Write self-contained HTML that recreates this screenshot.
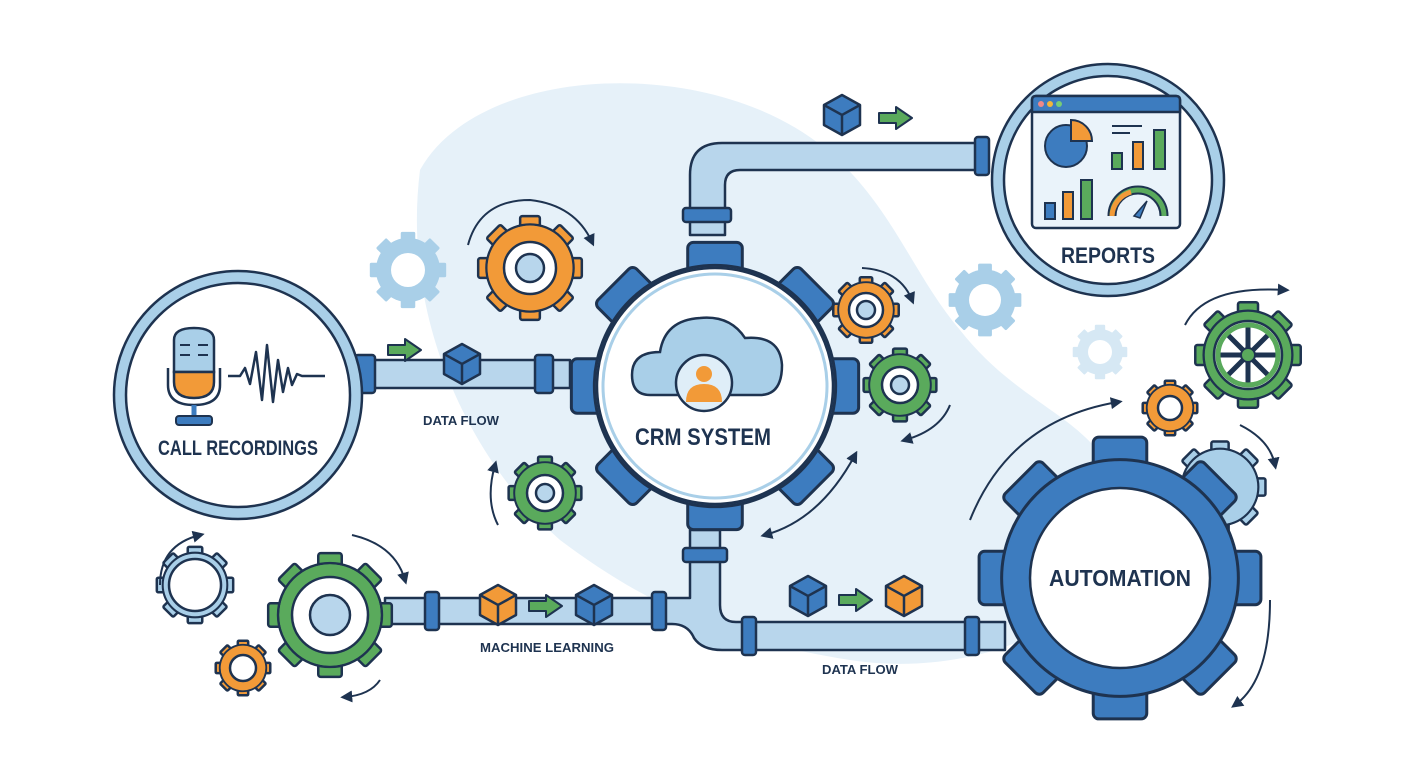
<!DOCTYPE html>
<html><head><meta charset="utf-8"><style>
html,body{margin:0;padding:0;background:#fff;}
svg{display:block;}
text{font-family:"Liberation Sans",sans-serif;font-weight:bold;fill:#1e3350;}
</style></head><body>
<svg width="1408" height="768" viewBox="0 0 1408 768" xmlns="http://www.w3.org/2000/svg">
<defs>
<symbol id="g" viewBox="-1.1 -1.1 2.2 2.2" overflow="visible">
 <rect x="-0.19" y="-1" width="0.38" height="0.3" rx="0.04" vector-effect="non-scaling-stroke"/>
 <rect x="-0.19" y="-1" width="0.38" height="0.3" rx="0.04" transform="rotate(45)" vector-effect="non-scaling-stroke"/>
 <rect x="-0.19" y="-1" width="0.38" height="0.3" rx="0.04" transform="rotate(90)" vector-effect="non-scaling-stroke"/>
 <rect x="-0.19" y="-1" width="0.38" height="0.3" rx="0.04" transform="rotate(135)" vector-effect="non-scaling-stroke"/>
 <rect x="-0.19" y="-1" width="0.38" height="0.3" rx="0.04" transform="rotate(180)" vector-effect="non-scaling-stroke"/>
 <rect x="-0.19" y="-1" width="0.38" height="0.3" rx="0.04" transform="rotate(225)" vector-effect="non-scaling-stroke"/>
 <rect x="-0.19" y="-1" width="0.38" height="0.3" rx="0.04" transform="rotate(270)" vector-effect="non-scaling-stroke"/>
 <rect x="-0.19" y="-1" width="0.38" height="0.3" rx="0.04" transform="rotate(315)" vector-effect="non-scaling-stroke"/>
 <circle r="0.84" vector-effect="non-scaling-stroke"/>
 <circle r="0.82" stroke="none"/>
</symbol>
<symbol id="cube" viewBox="-20 -22 40 44" overflow="visible">
 <path d="M0 -20 L18 -10 L18 10 L0 20 L-18 10 L-18 -10 Z" stroke="#1e3350" stroke-width="2.5" stroke-linejoin="round"/>
 <path d="M-18 -10 L0 0 L18 -10 M0 0 L0 20" fill="none" stroke="#1e3350" stroke-width="2.5"/>
</symbol>
<symbol id="arr" viewBox="0 0 36 24" overflow="visible">
 <path d="M1 7 H18 V1 L34 12 L18 23 V17 H1 Z" fill="#5aaa5c" stroke="#1e3350" stroke-width="2" stroke-linejoin="round"/>
</symbol>
<marker id="ah" viewBox="0 0 10 10" refX="6" refY="5" markerWidth="6" markerHeight="6" orient="auto-start-reverse">
 <path d="M0 0 L10 5 L0 10 Z" fill="#1e3350"/>
</marker>
</defs>

<path d="M420 170 C470 80 640 60 760 110 C880 160 900 260 960 330 C1030 420 1120 420 1120 520 C1120 620 980 680 850 660 C720 640 640 600 560 540 C480 470 400 330 420 170 Z" fill="#e6f1f9"/>

<!-- pipes -->
<g stroke="#1e3350" stroke-width="2.5" fill="#b8d6ec" stroke-linejoin="round">
 <rect x="355" y="360" width="215" height="28"/>
 <rect x="355" y="355" width="20" height="38" rx="3" fill="#3d7cbf"/>
 <rect x="535" y="355" width="18" height="38" rx="3" fill="#3d7cbf"/>
 <path d="M690 235 V175 Q690 143 722 143 H985 V170 H740 Q725 170 725 185 V235 Z"/>
 <rect x="683" y="208" width="48" height="14" rx="3" fill="#3d7cbf"/>
 <rect x="975" y="137" width="14" height="38" rx="3" fill="#3d7cbf"/>
 <path d="M690 530 V598 H385 V624 H672 Q688 624 694 638 Q702 650 722 650 H1005 V622 H736 Q720 622 720 605 V530 Z"/>
 <rect x="683" y="548" width="44" height="14" rx="3" fill="#3d7cbf"/>
 <rect x="742" y="617" width="14" height="38" rx="3" fill="#3d7cbf"/>
 <rect x="965" y="617" width="14" height="38" rx="3" fill="#3d7cbf"/>
 <rect x="425" y="592" width="14" height="38" rx="3" fill="#3d7cbf"/>
 <rect x="652" y="592" width="14" height="38" rx="3" fill="#3d7cbf"/>
</g>

<g stroke="none">
 <use href="#g" x="366" y="228" width="84" height="84" fill="#a9cfe8"/>
 <use href="#g" x="945" y="260" width="80" height="80" fill="#a9cfe8"/>
 <use href="#g" x="1070" y="322" width="60" height="60" fill="#d6e8f4"/>
</g>
<circle cx="408" cy="270" r="17" fill="#fff"/>
<circle cx="985" cy="300" r="16" fill="#fff"/>
<circle cx="1100" cy="352" r="12" fill="#fff"/>

<g stroke="#1e3350" stroke-width="2.5">
 <use href="#g" x="473" y="211" width="114" height="114" fill="#f29a38"/>
 <use href="#g" x="505" y="453" width="80" height="80" fill="#5aaa5c"/>
 <use href="#g" x="830" y="274" width="72" height="72" fill="#f29a38"/>
 <use href="#g" x="860" y="345" width="80" height="80" fill="#5aaa5c"/>
 <use href="#g" x="262" y="547" width="136" height="136" fill="#5aaa5c"/>
 <use href="#g" x="153" y="543" width="84" height="84" fill="#a9cfe8"/>
 <use href="#g" x="213" y="638" width="60" height="60" fill="#f29a38"/>
 <use href="#g" x="1190" y="297" width="116" height="116" fill="#5aaa5c"/>
 <use href="#g" x="1170" y="437" width="100" height="100" fill="#a9cfe8"/>
 <use href="#g" x="1140" y="378" width="60" height="60" fill="#f29a38"/>
</g>
<g stroke="#1e3350" stroke-width="2.5" fill="#fff">
 <circle cx="530" cy="268" r="26"/><circle cx="530" cy="268" r="14" fill="#b8d6ec"/>
 <circle cx="545" cy="493" r="18"/><circle cx="545" cy="493" r="9" fill="#b8d6ec"/>
 <circle cx="866" cy="310" r="17"/><circle cx="866" cy="310" r="9" fill="#b8d6ec"/>
 <circle cx="900" cy="385" r="18"/><circle cx="900" cy="385" r="9" fill="#b8d6ec"/>
 <circle cx="330" cy="615" r="38"/><circle cx="330" cy="615" r="20" fill="#b8d6ec"/>
 <circle cx="195" cy="585" r="26"/>
 <circle cx="243" cy="668" r="13"/>
 <circle cx="1170" cy="408" r="12"/>
</g>
<circle cx="1248" cy="355" r="34" fill="#fff" stroke="#1e3350" stroke-width="2.5"/>
<g stroke="#1e3350" stroke-width="5"><path d="M1248 325 V385 M1218 355 H1278 M1227 334 L1269 376 M1269 334 L1227 376"/></g>
<circle cx="1248" cy="355" r="30" fill="none" stroke="#5aaa5c" stroke-width="5"/>
<circle cx="1248" cy="355" r="7" fill="#5aaa5c" stroke="#1e3350" stroke-width="2"/>

<!-- CRM big gear -->
<use href="#g" x="557" y="228" width="316" height="316" fill="#3d7cbf" stroke="#1e3350" stroke-width="3"/>
<circle cx="715" cy="386" r="118" fill="#fff" stroke="#1e3350" stroke-width="2.5"/>
<circle cx="715" cy="386" r="112" fill="none" stroke="#a9cfe8" stroke-width="3"/>
<path d="M650 395 Q632 395 632 375 Q632 352 660 352 Q665 320 700 318 Q730 315 745 338 Q780 335 782 365 Q782 395 760 395 Z" fill="#a9cfe8" stroke="#1e3350" stroke-width="2.5"/>
<circle cx="704" cy="383" r="28" fill="#dfeef8" stroke="#1e3350" stroke-width="2.5"/>
<circle cx="704" cy="374" r="8" fill="#f29a38"/>
<path d="M686 402 Q686 384 704 384 Q722 384 722 402 Z" fill="#f29a38"/>
<text x="703" y="445" font-size="24" text-anchor="middle" textLength="136" lengthAdjust="spacingAndGlyphs">CRM SYSTEM</text>

<!-- Automation gear -->
<use href="#g" x="965" y="423" width="310" height="310" fill="#3d7cbf" stroke="#1e3350" stroke-width="3"/>
<circle cx="1120" cy="578" r="90" fill="#fff" stroke="#1e3350" stroke-width="2.5"/>
<text x="1120" y="586" font-size="23" text-anchor="middle" textLength="142" lengthAdjust="spacingAndGlyphs">AUTOMATION</text>

<!-- Call recordings -->
<circle cx="238" cy="395" r="118" fill="#fff" stroke="#a9cfe8" stroke-width="12"/>
<circle cx="238" cy="395" r="124" fill="none" stroke="#1e3350" stroke-width="2.5"/>
<circle cx="238" cy="395" r="112" fill="none" stroke="#1e3350" stroke-width="2.5"/>
<path d="M174 340 Q174 328 194 328 Q214 328 214 340 V372 H174 Z" fill="#a9cfe8" stroke="#1e3350" stroke-width="2.5"/>
<path d="M174 372 H214 V382 Q214 398 194 398 Q174 398 174 382 Z" fill="#f29a38" stroke="#1e3350" stroke-width="2.5"/>
<path d="M180 345 H190 M198 345 H208 M180 355 H190 M198 355 H208" stroke="#1e3350" stroke-width="2"/>
<path d="M168 368 V385 Q168 405 194 405 Q220 405 220 385 V368" fill="none" stroke="#1e3350" stroke-width="2.5"/>
<path d="M194 405 V418" stroke="#3d7cbf" stroke-width="5"/>
<rect x="176" y="416" width="36" height="9" rx="3" fill="#3d7cbf" stroke="#1e3350" stroke-width="2"/>
<path d="M228 376 H240 L245 368 L250 384 L256 352 L262 400 L267 345 L273 402 L278 360 L283 392 L288 368 L292 385 L297 374 L302 376 H325" fill="none" stroke="#1e3350" stroke-width="2.5" stroke-linejoin="round"/>
<text x="238" y="455" font-size="21" text-anchor="middle" textLength="160" lengthAdjust="spacingAndGlyphs">CALL RECORDINGS</text>

<!-- Reports -->
<circle cx="1108" cy="180" r="110" fill="#fff" stroke="#a9cfe8" stroke-width="12"/>
<circle cx="1108" cy="180" r="116" fill="none" stroke="#1e3350" stroke-width="2.5"/>
<circle cx="1108" cy="180" r="104" fill="none" stroke="#1e3350" stroke-width="2.5"/>
<rect x="1032" y="96" width="148" height="132" rx="4" fill="#eaf3fa" stroke="#1e3350" stroke-width="2.5"/>
<path d="M1032 100 Q1032 96 1036 96 H1176 Q1180 96 1180 100 V112 H1032 Z" fill="#3d7cbf" stroke="#1e3350" stroke-width="2.5"/>
<circle cx="1041" cy="104" r="3" fill="#e88"/><circle cx="1050" cy="104" r="3" fill="#f2b53a"/><circle cx="1059" cy="104" r="3" fill="#7c7"/>
<circle cx="1066" cy="146" r="21" fill="#3d7cbf" stroke="#1e3350" stroke-width="2"/>
<path d="M1071 141 V120 A21 21 0 0 1 1092 141 Z" fill="#f29a38" stroke="#1e3350" stroke-width="2"/>
<path d="M1112 126 H1142 M1112 133 H1130" stroke="#1e3350" stroke-width="2"/>
<rect x="1112" y="153" width="10" height="16" fill="#5aaa5c" stroke="#1e3350" stroke-width="2"/>
<rect x="1133" y="142" width="10" height="27" fill="#f29a38" stroke="#1e3350" stroke-width="2"/>
<rect x="1154" y="130" width="11" height="39" fill="#5aaa5c" stroke="#1e3350" stroke-width="2"/>
<rect x="1045" y="203" width="10" height="16" fill="#3d7cbf" stroke="#1e3350" stroke-width="2"/>
<rect x="1063" y="192" width="10" height="27" fill="#f29a38" stroke="#1e3350" stroke-width="2"/>
<rect x="1081" y="180" width="11" height="39" fill="#5aaa5c" stroke="#1e3350" stroke-width="2"/>
<path d="M1112 216 A26 26 0 0 1 1164 216" fill="none" stroke="#1e3350" stroke-width="9"/>
<path d="M1112 216 A26 26 0 0 1 1164 216" fill="none" stroke="#5aaa5c" stroke-width="5"/>
<path d="M1112 216 A26 26 0 0 1 1131 192" fill="none" stroke="#f29a38" stroke-width="5"/>
<path d="M1134 216 L1147 201 L1140 218 Z" fill="#3d7cbf" stroke="#1e3350" stroke-width="1.5"/>
<text x="1108" y="263" font-size="22" text-anchor="middle" textLength="94" lengthAdjust="spacingAndGlyphs">REPORTS</text>

<use href="#cube" x="822" y="93" width="40" height="44" fill="#3d7cbf"/>
<use href="#arr" x="878" y="106" width="36" height="24"/>
<use href="#cube" x="442" y="342" width="40" height="44" fill="#3d7cbf"/>
<use href="#arr" x="387" y="338" width="36" height="24"/>
<use href="#cube" x="478" y="583" width="40" height="44" fill="#f29a38"/>
<use href="#arr" x="528" y="594" width="36" height="24"/>
<use href="#cube" x="574" y="583" width="40" height="44" fill="#3d7cbf"/>
<use href="#cube" x="788" y="574" width="40" height="44" fill="#3d7cbf"/>
<use href="#arr" x="838" y="588" width="36" height="24"/>
<use href="#cube" x="884" y="574" width="40" height="44" fill="#f29a38"/>

<text x="461" y="425" font-size="13" text-anchor="middle" textLength="76" lengthAdjust="spacingAndGlyphs">DATA FLOW</text>
<text x="547" y="652" font-size="13" text-anchor="middle" textLength="134" lengthAdjust="spacingAndGlyphs">MACHINE LEARNING</text>
<text x="860" y="674" font-size="13" text-anchor="middle" textLength="76" lengthAdjust="spacingAndGlyphs">DATA FLOW</text>

<g fill="none" stroke="#1e3350" stroke-width="2" marker-end="url(#ah)">
 <path d="M468 245 Q480 200 530 200 Q575 205 592 242"/>
 <path d="M498 525 Q485 500 495 465"/>
 <path d="M862 268 Q900 270 912 300"/>
 <path d="M950 405 Q940 430 905 440"/>
 <path d="M855 455 Q820 520 765 535" marker-start="url(#ah)"/>
 <path d="M160 585 Q160 545 200 535"/>
 <path d="M352 535 Q395 545 405 580"/>
 <path d="M380 680 Q370 695 345 697"/>
 <path d="M1185 325 Q1205 285 1285 290"/>
 <path d="M970 520 Q1010 420 1118 402"/>
 <path d="M1240 425 Q1270 440 1275 465"/>
 <path d="M1270 600 Q1270 680 1235 705"/>
</g>
</svg>
</body></html>
